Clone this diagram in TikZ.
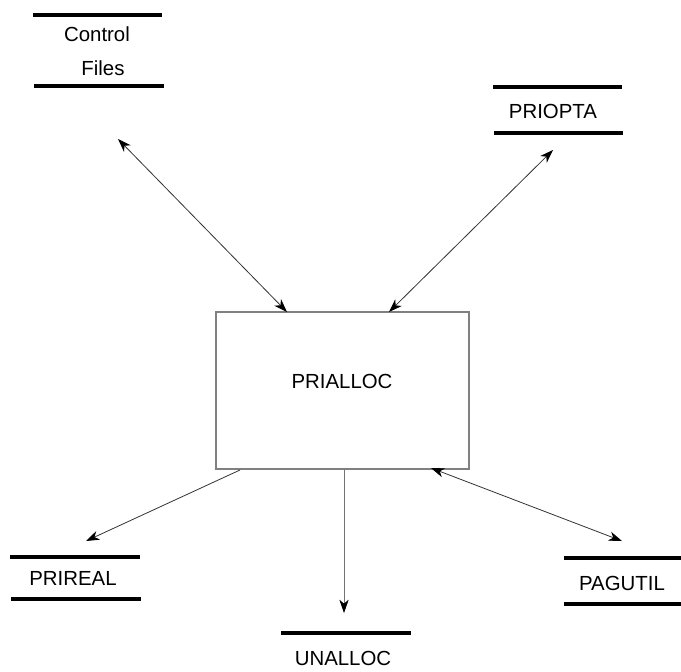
\documentclass[tikz,border=0pt]{standalone}
\usepackage{fontspec}
\setmainfont{Liberation Sans}
\usetikzlibrary{arrows.meta}
\begin{document}
\begin{tikzpicture}[x=0.75pt,y=-0.75pt,
  lbl/.style={inner sep=0pt,font=\fontsize{15.3}{18}\selectfont},
  store/.style={line width=3pt,black},
  tip/.style={},
  link/.style={line width=0.6pt,draw=black!80,-{Stealth[length=10pt,width=7pt,inset=3pt,black]}},
  dlink/.style={line width=0.6pt,draw=black!80,{Stealth[length=10pt,width=7pt,inset=3pt,black]}-{Stealth[length=10pt,width=7pt,inset=3pt,black]}}]
\useasboundingbox (0,0) rectangle (681,671);

% central process box
\node[draw=black!50,line width=0.9pt,minimum width=253*0.75pt,minimum height=157*0.75pt,inner sep=0pt] (prialloc) at (342.5,390.5) {};
\node[lbl] (prialloctxt) at (342,381) {PRIALLOC};

% data stores
\draw[store] (33,15) -- (162,15);
\draw[store] (34,86) -- (164,86);
\node[lbl] (ctl1) at (97,34) {Control};
\node[lbl] (ctl2) at (103,68) {Files};

\draw[store] (493,87) -- (622,87);
\draw[store] (494,133) -- (623,133);
\node[lbl] (priopta) at (553,111) {PRIOPTA};

\draw[store] (10,557) -- (140,557);
\draw[store] (11,599) -- (141,599);
\node[lbl] (prireal) at (73,578) {PRIREAL};

\draw[store] (281,633) -- (411,633);
\node[lbl] (unalloc) at (343,658) {UNALLOC};

\draw[store] (564,558) -- (681,558);
\draw[store] (564,604) -- (681,604);
\node[lbl] (pagutil) at (622,583) {PAGUTIL};

% connector end points
\coordinate (cfEnd) at (118,139);
\coordinate (cfBox) at (287,312);
\coordinate (poEnd) at (553,150);
\coordinate (poBox) at (389,312);
\coordinate (prBox) at (240,470);
\coordinate (prEnd) at (86,541);
\coordinate (unBox) at (344,470);
\coordinate (unEnd) at (344,613);
\coordinate (pgBox) at (431,468);
\coordinate (pgEnd) at (622,541);

\draw[dlink] (cfEnd) -- (cfBox);
\draw[dlink] (poBox) -- (poEnd);
\draw[link] (prBox) -- (prEnd);
\draw[link,draw=black!55] (unBox) -- (unEnd);
\draw[dlink] (pgBox) -- (pgEnd);
\end{tikzpicture}
\end{document}
